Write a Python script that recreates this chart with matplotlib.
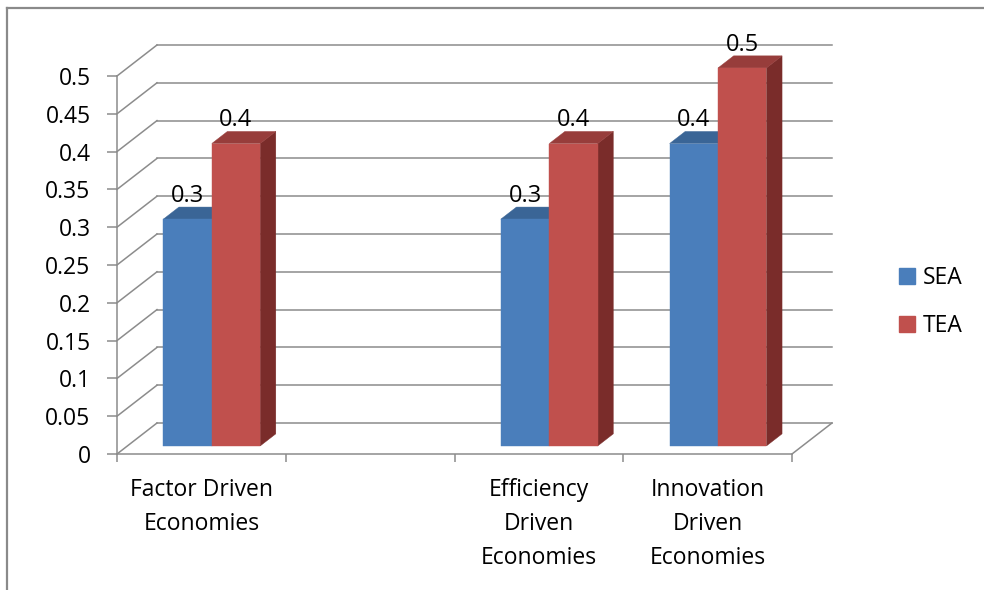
"""
Pseudo-3D clustered column chart: SEA vs TEA by economy type.
"""
import numpy as np
import matplotlib
matplotlib.use("Agg")
import matplotlib.pyplot as plt
from matplotlib.patches import Polygon, Patch
from matplotlib.lines import Line2D

plt.rcParams["font.family"] = ["Open Sans", "DejaVu Sans"]

# ---------------------------------------------------------------------------
# Data
# ---------------------------------------------------------------------------
categories = ["Factor Driven\nEconomies", "",
              "Efficiency\nDriven\nEconomies", "Innovation\nDriven\nEconomies"]
sea = [0.3, np.nan, 0.3, 0.4]
tea = [0.4, np.nan, 0.4, 0.5]
series_names = ["SEA", "TEA"]
y_ticks = [0, 0.05, 0.1, 0.15, 0.2, 0.25, 0.3, 0.35, 0.4, 0.45, 0.5]

# face colours: front, top, side
BLUE = ("#4A7EBB", "#3A6596", "#2E5079")
RED = ("#C0504D", "#973D3B", "#7A2C2A")
GRID = "#8C8C8C"

# ---------------------------------------------------------------------------
# Layout (figure pixels)
# ---------------------------------------------------------------------------
W, H = 984, 590
PX_LEFT, PX_RIGHT = 117, 792       # front plane, x
PX_BOTTOM, PX_TOP = 454, 76        # front plane, y (0 and 0.5)

DX = 0.237     # depth offset in category units
DY = 0.041     # depth offset in value units
Z0, Z1 = 0.26, 0.65   # bar depth span (fraction of full depth)
BAR_W = 0.287

fig = plt.figure(figsize=(W / 100, H / 100), dpi=100)
ax = fig.add_axes([PX_LEFT / W, 1 - PX_BOTTOM / H,
                   (PX_RIGHT - PX_LEFT) / W, (PX_BOTTOM - PX_TOP) / H])
n = len(categories)
ax.set_xlim(-0.5, n - 0.5)
ax.set_ylim(0, 0.5)

# spines / ticks
for s in ("top", "right"):
    ax.spines[s].set_visible(False)
for s in ("left", "bottom"):
    ax.spines[s].set_color(GRID)
    ax.spines[s].set_linewidth(1.1)

ax.set_yticks(y_ticks)
ax.set_yticklabels([f"{v:g}" for v in y_ticks])
ax.tick_params(axis="y", length=7, width=1.1, color=GRID, pad=12,
               labelsize=16.5, labelcolor="#000000")

ax.set_xticks(np.arange(n + 1) - 0.5)
ax.set_xticklabels([])
ax.set_xticks(np.arange(n), minor=True)
ax.set_xticklabels(categories, minor=True, fontsize=16.5, linespacing=1.55)
ax.tick_params(axis="x", which="major", length=6, width=1.1, color=GRID)
ax.tick_params(axis="x", which="minor", length=0, pad=17.5)

# back wall gridlines and side-wall diagonals
for v in y_ticks:
    ax.plot([-0.5 + DX, n - 0.5 + DX], [v + DY, v + DY], color=GRID,
            lw=1.1, clip_on=False, zorder=1)
    ax.plot([-0.5, -0.5 + DX], [v, v + DY], color=GRID,
            lw=1.1, clip_on=False, zorder=1)
# right edge of the floor
ax.plot([n - 0.5, n - 0.5 + DX], [0, DY], color=GRID, lw=1.1,
        clip_on=False, zorder=1)


def draw_bar(x_left, height, colors):
    front, top, side = colors
    xa, xb = x_left + Z0 * DX, x_left + BAR_W + Z0 * DX
    y0 = Z0 * DY
    ddx, ddy = (Z1 - Z0) * DX, (Z1 - Z0) * DY
    faces = [
        ([(xb, y0), (xb + ddx, y0 + ddy), (xb + ddx, height + y0 + ddy),
          (xb, height + y0)], side),
        ([(xa, height + y0), (xb, height + y0), (xb + ddx, height + y0 + ddy),
          (xa + ddx, height + y0 + ddy)], top),
        ([(xa, y0), (xb, y0), (xb, height + y0), (xa, height + y0)], front),
    ]
    for pts, c in faces:
        ax.add_patch(Polygon(pts, closed=True, facecolor=c, edgecolor=c,
                             lw=0.3, clip_on=False, zorder=3))
    ax.annotate(f"{height:.1f}", ((xa + xb) / 2, height + Z1 * DY),
                xytext=(0, -0.5), textcoords="offset points",
                ha="center", va="bottom", fontsize=17, zorder=4,
                annotation_clip=False)


for i in range(n):
    if np.isnan(sea[i]):
        continue
    draw_bar(i - BAR_W, sea[i], BLUE)
    draw_bar(i, tea[i], RED)

# legend
handles = [Patch(facecolor=BLUE[0], edgecolor=BLUE[0]),
           Patch(facecolor=RED[0], edgecolor=RED[0])]
fig.legend(handles, series_names, loc="center left",
           bbox_to_anchor=(888 / W, 1 - 302 / H), frameon=False,
           fontsize=16.5, handlelength=0.68, handleheight=0.68,
           handletextpad=0.35, labelspacing=1.05, borderpad=0)

# outer chart border (top and left visible)
fig.add_artist(Line2D([7 / W, 7 / W], [0, 1 - 8 / H], transform=fig.transFigure,
                      color="#8A8A8A", lw=1.6))
fig.add_artist(Line2D([7 / W, 1], [1 - 8 / H, 1 - 8 / H], transform=fig.transFigure,
                      color="#8A8A8A", lw=1.6))

fig.savefig("out.png", dpi=100)
